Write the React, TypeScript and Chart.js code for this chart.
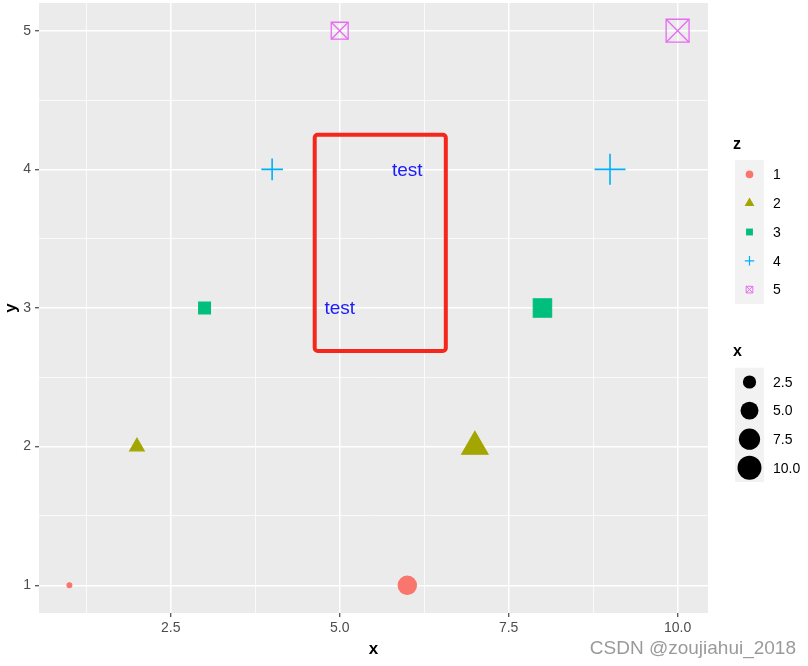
import React, { useEffect, useRef } from 'react';
import { Chart, registerables } from 'chart.js';

Chart.register(...registerables);

// ---- data ----
const xValues = [1, 2, 3, 4, 5, 6, 7, 8, 9, 10];
const yValues = [1, 2, 3, 4, 5, 1, 2, 3, 4, 5];
const zValues = ['1', '2', '3', '4', '5', '1', '2', '3', '4', '5'];
const zLevels = ['1', '2', '3', '4', '5'];
const zColors = ['#F8766D', '#A3A500', '#00BF7D', '#00B0F6', '#E76BF3'];

const xMajorTicks = [2.5, 5, 7.5, 10];
const xMinorTicks = [1.25, 3.75, 6.25, 8.75];
const yMajorTicks = [1, 2, 3, 4, 5];
const yMinorTicks = [1.5, 2.5, 3.5, 4.5];

const sizeBreaks = [2.5, 5, 7.5, 10];
const sizeBreakLabels = ['2.5', '5.0', '7.5', '10.0'];

const annotTextX = [5, 6];
const annotTextY = [3, 4];
const annotText = ['test', 'test'];
const boxXRange = [4.63, 6.57];
const boxYRange = [2.69, 4.25];

// ---- size scale (ggplot scale_size: area palette) ----
const X_DOMAIN = [1, 10];
const SIZE_RANGE = [1, 6];
const PX_PER_PT = 1.7;
const sizeOf = (v: number) =>
  SIZE_RANGE[0] + (SIZE_RANGE[1] - SIZE_RANGE[0]) * Math.sqrt((v - X_DOMAIN[0]) / (X_DOMAIN[1] - X_DOMAIN[0]));
const fsOf = (s: number) => s * 2.845 + 0.945;

const radiusFor = (shape: string, s: number) => {
  const f = fsOf(s) * PX_PER_PT;
  switch (shape) {
    case 'circle': return 0.375 * f;
    case 'triangle': return 0.583 * f;
    case 'rect': return (0.332 * f) / Math.SQRT1_2;
    case 'cross': return 0.53 * f;
    default: return 0.53 * f; // boxed cross
  }
};

const shapes = ['circle', 'triangle', 'rect', 'cross', 'box'];
const FONT = '"Liberation Sans", Arial, sans-serif';

const isIn = (arr: number[], v: number) => arr.some((a) => Math.abs(a - v) < 1e-9);

function makeDatasets() {
  const ds: any[] = [];
  zLevels.forEach((lvl, gi) => {
    const pts = xValues
      .map((x, i) => ({ x, y: yValues[i], z: zValues[i] }))
      .filter((p) => p.z === lvl)
      .map((p) => ({ x: p.x, y: p.y }));
    const col = zColors[gi];
    const shape = shapes[gi];
    const rad = (ctx: any) => (ctx.raw ? radiusFor(shape, sizeOf(ctx.raw.x)) : 3);
    if (shape === 'box') {
      ds.push({
        label: lvl, data: pts, pointStyle: 'rect', pointRadius: rad,
        backgroundColor: 'rgba(0,0,0,0)', borderColor: col, pointBorderWidth: 1.3,
        pointHoverRadius: rad,
      });
      ds.push({
        label: lvl + 'x', data: pts, pointStyle: 'crossRot', pointRadius: rad,
        backgroundColor: 'rgba(0,0,0,0)', borderColor: col, pointBorderWidth: 1.3,
        pointHoverRadius: rad,
      });
    } else if (shape === 'cross') {
      ds.push({
        label: lvl, data: pts, pointStyle: 'cross', pointRadius: rad,
        backgroundColor: col, borderColor: col, pointBorderWidth: 1.6,
        pointHoverRadius: rad,
      });
    } else {
      ds.push({
        label: lvl, data: pts, pointStyle: shape, pointRadius: rad,
        backgroundColor: col, borderColor: col, pointBorderWidth: 1.1,
        pointHoverRadius: rad,
      });
    }
  });
  return ds;
}

function drawShape(ctx: CanvasRenderingContext2D, shape: string, cx: number, cy: number, s: number, col: string) {
  const f = fsOf(s) * PX_PER_PT;
  ctx.save();
  ctx.fillStyle = col;
  ctx.strokeStyle = col;
  ctx.beginPath();
  if (shape === 'circle') {
    ctx.arc(cx, cy, 0.375 * f + 0.5, 0, Math.PI * 2);
    ctx.fill();
  } else if (shape === 'triangle') {
    const r = 0.583 * f + 0.5;
    ctx.moveTo(cx, cy - r);
    ctx.lineTo(cx + r * Math.sin((2 * Math.PI) / 3), cy + r / 2);
    ctx.lineTo(cx - r * Math.sin((2 * Math.PI) / 3), cy + r / 2);
    ctx.closePath();
    ctx.fill();
  } else if (shape === 'rect') {
    const h = 0.332 * f + 0.5;
    ctx.rect(cx - h, cy - h, 2 * h, 2 * h);
    ctx.fill();
  } else if (shape === 'cross') {
    const h = 0.53 * f;
    ctx.lineWidth = 1.2;
    ctx.moveTo(cx - h, cy); ctx.lineTo(cx + h, cy);
    ctx.moveTo(cx, cy - h); ctx.lineTo(cx, cy + h);
    ctx.stroke();
  } else {
    const h = 0.375 * f;
    ctx.lineWidth = 1;
    ctx.rect(cx - h, cy - h, 2 * h, 2 * h);
    ctx.moveTo(cx - h, cy - h); ctx.lineTo(cx + h, cy + h);
    ctx.moveTo(cx + h, cy - h); ctx.lineTo(cx - h, cy + h);
    ctx.stroke();
  }
  ctx.restore();
}

const decorPlugin = {
  id: 'decor',
  beforeDraw(chart: any) {
    const { ctx, chartArea: a } = chart;
    ctx.save();
    ctx.fillStyle = '#EBEBEB';
    ctx.fillRect(a.left, a.top, a.right - a.left, a.bottom - a.top);
    ctx.restore();
  },
  afterDatasetsDraw(chart: any) {
    const { ctx, scales } = chart;
    const xs = scales.x, ys = scales.y;
    ctx.save();
    // red box
    const x1 = xs.getPixelForValue(boxXRange[0]);
    const x2 = xs.getPixelForValue(boxXRange[1]);
    const y1 = ys.getPixelForValue(boxYRange[1]);
    const y2 = ys.getPixelForValue(boxYRange[0]);
    ctx.strokeStyle = '#F5261C';
    ctx.lineWidth = 4;
    ctx.lineJoin = 'round';
    ctx.beginPath();
    (ctx as any).roundRect(x1, y1, x2 - x1, y2 - y1, 3);
    ctx.stroke();
    // text annotations
    ctx.fillStyle = '#1A1AFF';
    ctx.font = `19px ${FONT}`;
    ctx.textAlign = 'center';
    ctx.textBaseline = 'middle';
    annotText.forEach((t, i) => {
      ctx.fillText(t, xs.getPixelForValue(annotTextX[i]), ys.getPixelForValue(annotTextY[i]) + 1);
    });
    ctx.restore();
  },
  afterDraw(chart: any) {
    const { ctx, chartArea: a } = chart;
    ctx.save();
    // axis titles
    ctx.fillStyle = '#000000';
    ctx.font = `bold 17px ${FONT}`;
    ctx.textAlign = 'center';
    ctx.textBaseline = 'middle';
    ctx.fillText('x', (a.left + a.right) / 2, 649);
    ctx.save();
    ctx.translate(11, (a.top + a.bottom) / 2);
    ctx.rotate(-Math.PI / 2);
    ctx.fillText('y', 0, 0);
    ctx.restore();

    // legend z
    const keyL = 735, keyW = 29, keyH = 28.8;
    ctx.textAlign = 'left';
    ctx.font = `bold 16px ${FONT}`;
    ctx.fillText('z', 733, 145);
    const zTop = 160;
    ctx.fillStyle = '#F2F2F2';
    ctx.fillRect(keyL, zTop, keyW, keyH * zLevels.length);
    zLevels.forEach((lvl, i) => {
      const cy = zTop + keyH * (i + 0.5);
      drawShape(ctx, shapes[i], keyL + keyW / 2, cy, 1.5, zColors[i]);
      ctx.fillStyle = '#000000';
      ctx.font = `14px ${FONT}`;
      ctx.textBaseline = 'middle';
      ctx.fillText(lvl, 773, cy + 1);
    });

    // legend x (size)
    ctx.fillStyle = '#000000';
    ctx.font = `bold 16px ${FONT}`;
    ctx.fillText('x', 733, 352);
    const sTop = 367.7, sH = 28.6;
    ctx.fillStyle = '#F2F2F2';
    ctx.fillRect(keyL, sTop, keyW, sH * sizeBreaks.length);
    sizeBreaks.forEach((b, i) => {
      const cy = sTop + sH * (i + 0.5);
      drawShape(ctx, 'circle', keyL + keyW / 2, cy, sizeOf(b), '#000000');
      ctx.fillStyle = '#000000';
      ctx.font = `14px ${FONT}`;
      ctx.fillText(sizeBreakLabels[i], 773, cy + 1);
    });

    // watermark
    ctx.font = `19px ${FONT}`;
    ctx.textAlign = 'right';
    ctx.fillStyle = '#9A9A9A';
    ctx.fillText('CSDN @zoujiahui_2018', 796, 649);
    ctx.restore();
  },
};

export default function App() {
  const ref = useRef<HTMLCanvasElement | null>(null);
  useEffect(() => {
    document.body.style.margin = '0';
    const canvas = ref.current;
    if (!canvas) return;
    const chart = new Chart(canvas, {
      type: 'scatter',
      data: { datasets: makeDatasets() },
      options: {
        animation: false,
        responsive: false,
        devicePixelRatio: 1,
        layout: { autoPadding: false, padding: { left: 0, top: 3, right: 100, bottom: 0 } },
        plugins: { legend: { display: false }, tooltip: { enabled: false } },
        scales: {
          x: {
            type: 'linear',
            min: 0.55,
            max: 10.45,
            afterBuildTicks: (axis: any) => {
              axis.ticks = [...xMinorTicks, ...xMajorTicks].sort((a, b) => a - b).map((v) => ({ value: v }));
            },
            afterFit: (s: any) => {
              s.height = 53;
              s.paddingLeft = 0;
              s.paddingRight = 0;
            },
            border: { display: false },
            grid: {
              color: '#FFFFFF',
              lineWidth: (c: any) => (c.tick && isIn(xMajorTicks, c.tick.value) ? 1.5 : 0.75),
              tickColor: (c: any) => (c.tick && isIn(xMajorTicks, c.tick.value) ? '#333333' : 'rgba(0,0,0,0)'),
              tickLength: 4,
              tickWidth: 1.1,
              drawTicks: true,
            },
            ticks: {
              autoSkip: false,
              maxRotation: 0,
              padding: 3,
              color: '#4D4D4D',
              font: { family: FONT, size: 14 },
              callback: (v: any) => (isIn(xMajorTicks, Number(v)) ? Number(v).toFixed(1) : ''),
            },
          },
          y: {
            type: 'linear',
            min: 0.8,
            max: 5.2,
            afterBuildTicks: (axis: any) => {
              axis.ticks = [...yMinorTicks, ...yMajorTicks].sort((a, b) => a - b).map((v) => ({ value: v }));
            },
            afterFit: (s: any) => {
              s.width = 39;
              s.paddingTop = 0;
              s.paddingBottom = 0;
            },
            border: { display: false },
            grid: {
              color: '#FFFFFF',
              lineWidth: (c: any) => (c.tick && isIn(yMajorTicks, c.tick.value) ? 1.5 : 0.75),
              tickColor: (c: any) => (c.tick && isIn(yMajorTicks, c.tick.value) ? '#333333' : 'rgba(0,0,0,0)'),
              tickLength: 4,
              tickWidth: 1.1,
              drawTicks: true,
            },
            ticks: {
              autoSkip: false,
              padding: 4,
              color: '#4D4D4D',
              font: { family: FONT, size: 14 },
              callback: (v: any) => (isIn(yMajorTicks, Number(v)) ? String(v) : ''),
            },
          },
        },
      },
      plugins: [decorPlugin],
    });
    return () => chart.destroy();
  }, []);
  return (
    <div style={{ width: 808, height: 666 }}>
      <canvas ref={ref} width={808} height={666} style={{ display: 'block' }} />
    </div>
  );
}
